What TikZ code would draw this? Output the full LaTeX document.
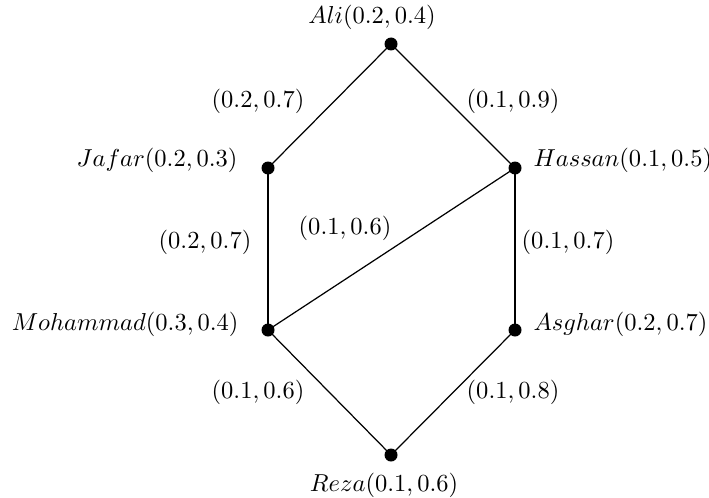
\documentclass[tikz,border=0pt]{standalone}
\begin{document}
\begin{tikzpicture}[x=0.408pt,y=-0.408pt,
  vtx/.style={circle,fill=black,inner sep=0pt,minimum size=13*0.408pt},
  lbl/.style={inner sep=0pt},
  edge/.style={line width=0.5pt}]
\useasboundingbox (0,0) rectangle (709,497);
\node[vtx] (ali) at (391,44) {};
\node[vtx] (jafar) at (268,168) {};
\node[vtx] (hassan) at (515,168) {};
\node[vtx] (moh) at (268,330) {};
\node[vtx] (asg) at (515,330) {};
\node[vtx] (reza) at (391,455) {};
\draw[edge] (ali.center) -- (jafar.center);
\draw[edge] (ali.center) -- (hassan.center);
\draw[edge] (jafar.center) -- (moh.center);
\draw[edge] (hassan.center) -- (moh.center);
\draw[edge] (hassan.center) -- (asg.center);
\draw[edge] (moh.center) -- (reza.center);
\draw[edge] (asg.center) -- (reza.center);
\node[lbl] (lali) at (372,17) {$Ali(0.2,0.4)$};
\node[lbl,anchor=east] (ljafar) at (238,160) {$Jafar(0.2,0.3)$};
\node[lbl,anchor=west] (lhassan) at (533,160) {$Hassan(0.1,0.5)$};
\node[lbl,anchor=east] (lmoh) at (239,324) {$Mohammad(0.3,0.4)$};
\node[lbl,anchor=west] (lasg) at (533,324) {$Asghar(0.2,0.7)$};
\node[lbl] (lreza) at (384,485) {$Reza(0.1,0.6)$};
\node[lbl] (e1) at (258,101) {$(0.2,0.7)$};
\node[lbl] (e2) at (513,101) {$(0.1,0.9)$};
\node[lbl] (e3) at (205,242) {$(0.2,0.7)$};
\node[lbl] (e4) at (345,228) {$(0.1,0.6)$};
\node[lbl] (e5) at (568,242) {$(0.1,0.7)$};
\node[lbl] (e6) at (258,392) {$(0.1,0.6)$};
\node[lbl] (e7) at (513,392) {$(0.1,0.8)$};
\end{tikzpicture}
\end{document}
